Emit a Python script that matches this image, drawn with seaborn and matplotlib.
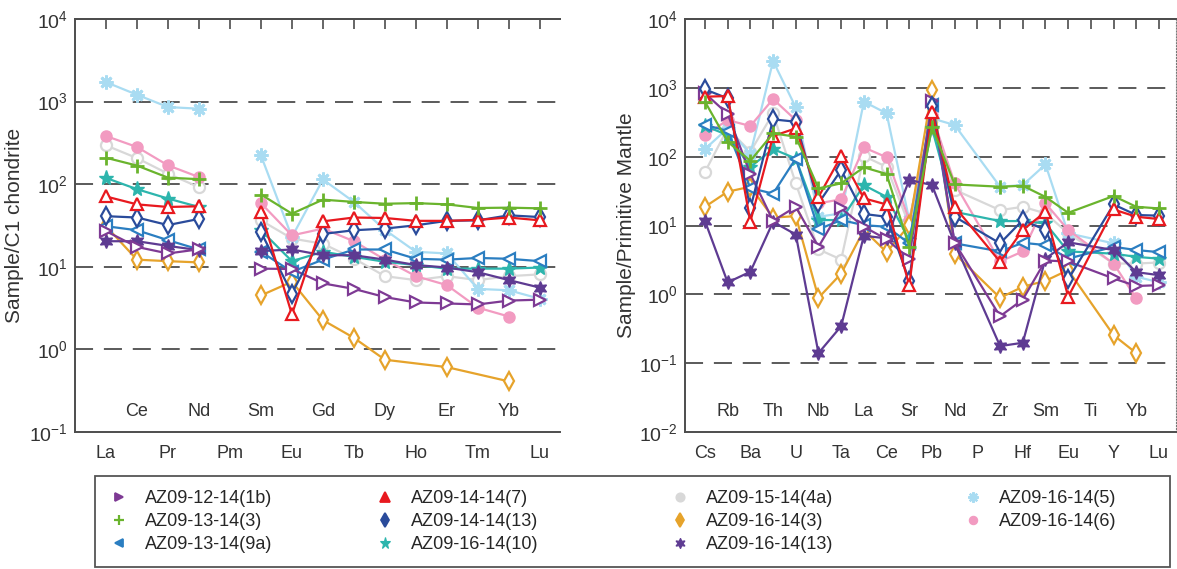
import numpy as np
import matplotlib
matplotlib.use("Agg")
import matplotlib.pyplot as plt
import seaborn as sns
from matplotlib.lines import Line2D
from matplotlib.patches import Rectangle
from matplotlib.ticker import LogLocator, NullFormatter, FuncFormatter

nan = np.nan

# element order on the two x axes
ree = ["La", "Ce", "Pr", "Nd", "Pm", "Sm", "Eu", "Gd", "Tb", "Dy", "Ho", "Er", "Tm", "Yb", "Lu"]
spider = ["Cs", "Rb", "Ba", "Th", "U", "Nb", "Ta", "La", "Ce", "Sr", "Pb", "Nd", "P",
          "Zr", "Hf", "Sm", "Eu", "Ti", "Y", "Yb", "Lu"]

# chondrite-normalised REE
ree_1b = [27, 17.4, 14.5, 16.3, nan, 9.5, 9.4, 6.3, 5.4, 4.3, 3.7, 3.6, 3.5, 3.9, 4.0]
ree_13_3 = [209, 168, 120, 115, nan, 75, 44, 65, 61, 58, 59, 57, 51.5, 52, 51]
ree_13_9a = [31, 27.7, 21, 16.2, nan, 15.2, 8.7, 12.2, 16.2, 16.2, 12.5, 12.2, 12.8, 12.5, 11.7]
ree_14_7 = [71, 57, 53, 54, nan, 46, 2.65, 35.5, 39.5, 39, 36, 36, 37, 39.5, 36.5]
ree_14_13 = [41, 39.5, 32, 38, nan, 26.4, 4.75, 25, 27.7, 29, 31.8, 36, 36.5, 42, 40]
ree_16_10 = [119, 87, 67, 53, nan, 27.7, 11.7, 15.2, 13.2, 11.5, 10.5, 9.5, 9.5, 9.5, 9.8]
ree_15_4a = [295, 207, 134, 92, nan, 36.5, 22, 19, 12.6, 7.7, 6.9, 7.7, 6.9, 7.7, 8.1]
ree_16_3 = [31, 12.2, 11.7, 11.3, nan, 4.5, 6.6, 2.26, 1.38, 0.75, nan, 0.61, nan, 0.41, nan]
ree_16_13 = [20.4, 20.4, 17.9, 15.9, nan, 15.5, 16.2, 13.8, 13.8, 12.2, 10.5, 9.8, 8.6, 6.9, 5.6]
ree_16_5 = [1720, 1210, 859, 820, nan, 223, 23, 114, 61, 28, 15.2, 14.5, 5.4, 5.2, 4.1]
ree_16_6 = [383, 282, 169, 122, nan, 59, 24, 29, 20.4, 12.2, 7.7, 6.0, 3.2, 2.5, nan]

# primitive-mantle-normalised trace elements
pm_1b = [832, 417, 56, 11.7, 18.7, 4.9, 17.7, 9.6, 6.3, 3.3, 650, 5.6, nan, 0.48, 0.84, 3.1, 3.0, nan, 1.7, 1.32, 1.36]
pm_13_3 = [630, 165, 87, 218, 195, 34.6, 41, 70, 56, 4.9, 272, 39.5, nan, 36.6, 37.8, 26, 15.3, nan, 26.8, 18.7, 17.7]
pm_13_9a = [290, 236, 35, 29, 94, 8.8, 12, 10.1, 9.6, 5.5, 560, 5.5, nan, 4.2, 5.6, 5.2, 3.3, nan, 4.9, 4.4, 4.1]
pm_14_7 = [743, 760, 11.4, 199, 258, 26, 102, 24.8, 20.2, 1.36, 450, 18.7, nan, 2.97, 8.6, 15.8, 0.92, nan, 17.1, 13.4, 12.4]
pm_14_13 = [950, 703, 17.7, 348, 322, 21, 64, 14.7, 13.4, 1.57, 545, 13.4, nan, 5.5, 12, 8.6, 1.65, nan, 20.2, 14.2, 13.9]
pm_16_10 = [280, 206, 71, 129, 94, 12, 12, 38.6, 26, 6.1, 260, 15.8, nan, 11.6, 11.6, 10.7, 4.2, nan, 3.9, 3.5, 3.3]
pm_15_4a = [60, 258, 118, 426, 41, 4.5, 3.2, 102, 71, 10.1, 250, 33, nan, 16.7, 18.7, 15, 7.7, nan, 2.8, 2.8, 2.9]
pm_16_3 = [18.7, 31, 36.6, 13, 13.7, 0.89, 2.0, 8.6, 4.1, 10.1, 929, 3.9, nan, 0.89, 1.29, 1.57, 2.25, nan, 0.255, 0.14, nan]
pm_16_13 = [11.6, 1.49, 2.13, 11.3, 7.4, 0.14, 0.345, 7.1, 6.5, 46, 38.7, 5.5, nan, 0.177, 0.198, 3.3, 5.7, nan, 4.4, 2.1, 1.9]
pm_16_5 = [129, 258, 110, 2450, 520, 13.4, 15, 630, 426, 12, 360, 288, nan, 36.6, 38.7, 77, 7.7, nan, 5.5, 1.8, 1.5]
pm_16_6 = [206, 340, 279, 687, 340, 21, 24, 136, 98, 12, 400, 41, nan, 3.0, 4.2, 21, 8.6, nan, 2.8, 0.87, nan]

labels = ["AZ09-12-14(1b)", "AZ09-13-14(3)", "AZ09-13-14(9a)",
          "AZ09-14-14(7)", "AZ09-14-14(13)", "AZ09-16-14(10)",
          "AZ09-15-14(4a)", "AZ09-16-14(3)", "AZ09-16-14(13)",
          "AZ09-16-14(5)", "AZ09-16-14(6)"]
ree_data = [ree_1b, ree_13_3, ree_13_9a, ree_14_7, ree_14_13, ree_16_10,
            ree_15_4a, ree_16_3, ree_16_13, ree_16_5, ree_16_6]
pm_data = [pm_1b, pm_13_3, pm_13_9a, pm_14_7, pm_14_13, pm_16_10,
           pm_15_4a, pm_16_3, pm_16_13, pm_16_5, pm_16_6]

# colour, marker, open?, size, edge width
styles = [
    ("#7E3A94", ">", True, 8.5, 1.6),
    ("#6AB42D", "+", False, 10, 2.0),
    ("#2B7EC1", "<", True, 8.5, 1.6),
    ("#E8191F", "^", True, 9, 1.6),
    ("#2A4B9B", "d", True, 9, 1.6),
    ("#2DB5AD", "*", False, 11, 1.0),
    ("#D8D8D8", "o", True, 8, 1.6),
    ("#E6A32B", "d", True, 9, 1.6),
    ("#5E3B92", (6, 1, 0), False, 10, 1.0),
    ("#A9DCF2", (8, 2, 0), False, 10, 2.0),
    ("#F29BC1", "o", False, 8, 1.0),
]
draw_order = [6, 9, 10, 7, 5, 2, 8, 0, 4, 3, 1]

sns.set_style("white")
plt.rcParams["font.family"] = ["Liberation Sans", "DejaVu Sans"]
plt.rcParams["mathtext.default"] = "regular"

fig = plt.figure(figsize=(11.77, 5.69), dpi=100)
W, H = 1177, 569
ax1 = fig.add_axes([75 / W, 137 / H, 485 / W, 413 / H])
ax2 = fig.add_axes([685 / W, 137 / H, 491 / W, 413 / H])


def draw_series(ax, vals, st, gap=None):
    c, m, hollow, ms, mew = st
    y = np.array(vals, float)
    x = np.arange(len(y))
    parts = [x] if gap is None else [x[:gap], x[gap + 1:]]
    for p in parts:
        ok = p[~np.isnan(y[p])]
        if len(ok) == 0:
            continue
        sns.lineplot(x=ok, y=y[ok], ax=ax, sort=False, estimator=None,
                     color=c, linewidth=1.6, marker=m, markersize=ms,
                     markerfacecolor="white" if hollow else c,
                     markeredgecolor=c, markeredgewidth=mew)


def dec_fmt(v, pos):
    return r"$10^{%d}$" % int(round(np.log10(v)))


def style_axis(ax, names, ylo, xlim, ylabel):
    ax.set_yscale("log")
    ax.set_ylim(ylo, 1e4)
    ax.set_xlim(*xlim)
    for e in range(int(np.log10(ylo)) + 1, 4):
        ax.axhline(10.0 ** e, color="#4D4D4D", lw=1.3, dashes=(10, 6), zorder=0)
    n = len(names)
    even = list(range(0, n, 2))
    odd = list(range(1, n, 2))
    ax.set_xticks(even, [names[i] for i in even])
    ax.set_xticks(odd, [names[i] for i in odd], minor=True)
    ax.tick_params(axis="x", which="major", direction="out", length=6, width=1.2,
                   pad=3, labelsize=13, colors="#4D4D4D", labelcolor="#333333")
    ax.tick_params(axis="x", which="minor", direction="in", length=7, width=1.2,
                   pad=-21, labelsize=13, colors="#4D4D4D", labelcolor="#333333")
    top = ax.secondary_xaxis("top")
    top.set_xticks(range(n), [""] * n)
    top.tick_params(direction="in", length=7, width=1.2, colors="#4D4D4D")
    top.spines["top"].set_color("#4D4D4D")
    top.spines["top"].set_linewidth(1.4)
    ax.yaxis.set_major_locator(LogLocator(base=10, numticks=10))
    ax.yaxis.set_minor_locator(LogLocator(base=10, subs=np.arange(2, 10), numticks=10))
    ax.yaxis.set_major_formatter(FuncFormatter(dec_fmt))
    ax.yaxis.set_minor_formatter(NullFormatter())
    ax.tick_params(axis="y", which="major", direction="in", length=7, width=1.2,
                   labelsize=14, colors="#4D4D4D", labelcolor="#333333", pad=5)
    ax.tick_params(axis="y", which="minor", direction="in", length=4, width=1.0,
                   colors="#4D4D4D")
    for s in ["left", "bottom", "top"]:
        ax.spines[s].set_color("#4D4D4D")
        ax.spines[s].set_linewidth(1.4)
    ax.spines["right"].set_visible(False)
    ax.set_ylabel(ylabel, fontsize=15, color="#333333")
    ax.set_xlabel("")


for i in draw_order:
    draw_series(ax1, ree_data[i], styles[i], gap=4)
    draw_series(ax2, pm_data[i], styles[i])

style_axis(ax1, ree, 0.1, (-1.0, 14.65), "Sample/C1 chondrite")
style_axis(ax2, spider, 0.01, (-0.88, 20.75), "Sample/Primitive Mantle")
ax1.yaxis.set_label_coords(-0.106, 0.5)
ax2.yaxis.set_label_coords(-0.1, 0.5)
ax2.spines["right"].set_visible(True)
ax2.spines["right"].set_linestyle(":")
ax2.spines["right"].set_color("#777777")

# legend: frame plus four columns
fig.add_artist(Rectangle((95 / W, 2 / H), 1075 / W, 91 / H, transform=fig.transFigure,
                         fill=False, edgecolor="#555555", lw=1.3))
handles = []
for c, m, hollow, ms, mew in styles:
    handles.append(Line2D([], [], linestyle="none", marker=m, color=c,
                          markerfacecolor=c, markeredgecolor=c,
                          markersize=ms * 0.75, markeredgewidth=mew * 0.8))
cols = [(0, 3, 110), (3, 6, 376), (6, 9, 671), (9, 11, 964)]
for a, b, x0 in cols:
    fig.legend(handles[a:b], labels[a:b], loc="upper left",
               bbox_to_anchor=(x0 / W, 1 - 490 / H), frameon=False,
               fontsize=13, handlelength=1.0, handletextpad=0.95,
               labelspacing=0.33, borderpad=0, borderaxespad=0)

fig.savefig("out.png", dpi=100)
